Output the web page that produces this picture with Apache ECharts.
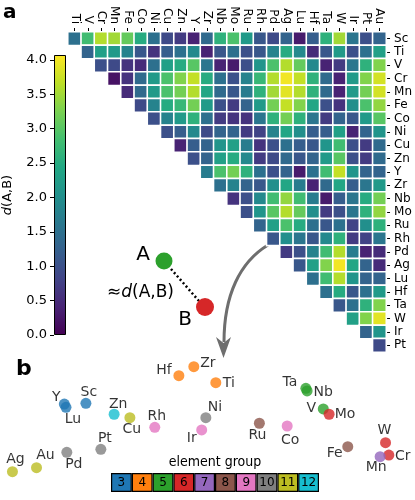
<!DOCTYPE html>
<html><head><meta charset="utf-8">
<script src="https://cdn.jsdelivr.net/npm/echarts@6/dist/echarts.min.js"></script>
<style>html,body{margin:0;padding:0;background:#fff}#c{width:415px;height:500px}</style>
</head><body><div id="c"></div>
<script>
// ---------- data: panel a (upper-triangular distance matrix) ----------
const rowLabels = ['Sc','Ti','V','Cr','Mn','Fe','Co','Ni','Cu','Zn','Y','Zr','Nb','Mo','Ru','Rh','Pd','Ag','Lu','Hf','Ta','W','Ir','Pt'];
const colLabels = ['Ti','V','Cr','Mn','Fe','Co','Ni','Cu','Zn','Y','Zr','Nb','Mo','Ru','Rh','Pd','Ag','Lu','Hf','Ta','W','Ir','Pt','Au'];
const rowSc = [1.5,2.8,3.6,3.5,3.1,2.5,1.5,0.9,0.7,0.4,1.4,2.6,2.9,2.2,1.1,0.9,1.3,0.3,1.2,2.6,3.5,1.6,1.0,1.3];
const rowTi = [1.3,2.3,2.2,1.8,1.1,0.6,1.2,1.5,1.9,0.4,1.1,1.5,1.0,1.1,1.8,2.5,1.9,0.5,1.1,2.2,1.0,1.5,2.3];
const rowV  = [1.0,0.9,0.6,0.5,1.5,2.3,2.5,3.0,1.6,0.4,0.3,1.0,2.1,2.9,3.6,3.1,1.9,0.4,0.7,1.6,2.6,3.3];
const rowCr = [0.2,0.6,1.4,2.2,2.9,3.3,3.7,2.5,1.5,1.0,1.8,2.7,3.6,4.0,3.7,2.6,1.4,0.4,2.2,3.3,3.8];
const rowMn = [0.5,1.4,2.2,2.9,3.2,3.6,2.4,1.4,1.1,1.7,2.6,3.5,3.9,3.6,2.6,1.4,0.4,2.2,3.2,3.8];
const rowFe = [0.9,1.8,2.5,2.7,3.2,2.2,1.0,0.7,1.3,2.2,3.2,3.7,3.3,2.4,1.0,0.6,2.0,2.9,3.4];
const rowCo = [1.0,1.8,2.2,2.6,1.5,0.7,0.6,0.6,1.6,2.6,3.2,2.6,1.6,0.7,1.3,1.1,2.2,3.0];
const rowNi = [1.0,1.2,1.9,0.9,1.3,1.3,0.7,0.8,1.8,2.4,2.0,1.2,1.2,2.3,0.4,1.3,2.1];
const rowCu = [0.4,1.2,1.3,2.1,2.3,1.7,0.6,1.0,1.5,1.2,1.1,2.1,2.8,1.0,0.7,1.4];
const rowZn = [1.0,1.3,2.3,2.5,1.9,0.7,0.9,1.4,1.1,1.3,2.2,3.0,1.0,0.7,1.4];
const rowY  = [1.7,2.9,3.2,2.6,1.5,1.0,1.3,0.3,1.5,2.8,3.7,2.1,1.3,1.3];
const rowZr = [1.5,1.8,1.3,1.1,2.0,2.4,1.7,0.4,1.4,2.4,1.2,1.6,2.2];
const rowNb = [0.6,1.0,1.9,2.8,3.4,2.8,1.7,0.3,1.2,1.6,2.5,3.2];
const rowMo = [1.0,2.1,3.0,3.6,3.1,2.0,0.7,1.0,1.6,2.6,3.4];
const rowRu = [1.3,2.3,2.9,2.5,1.5,1.1,1.5,0.8,2.0,2.6];
const rowRh = [1.1,2.0,1.6,1.1,1.9,2.6,0.7,0.8,1.6];
const rowPd = [0.7,1.0,1.8,2.8,3.6,1.7,0.4,0.5];
const rowAg = [1.1,2.3,3.3,4.0,2.4,1.3,0.5];
const rowLu = [1.5,2.8,3.6,2.1,1.3,1.3];
const rowHf = [1.5,2.5,1.1,1.5,2.2];
const rowTa = [1.1,1.5,2.6,3.3];
const rowW  = [2.3,3.3,3.9];
const rowIr = [1.3,2.1];
const rowPt = [0.9];
const distRows = [rowSc,rowTi,rowV,rowCr,rowMn,rowFe,rowCo,rowNi,rowCu,rowZn,rowY,rowZr,rowNb,rowMo,rowRu,rowRh,rowPd,rowAg,rowLu,rowHf,rowTa,rowW,rowIr,rowPt];
const cbMin = 0, cbMax = 4.07;
const cbTicks = [0,0.5,1,1.5,2,2.5,3,3.5,4];

// ---------- data: panel b (2-D embedding) ----------
const embElems = ['Sc','Ti','V','Cr','Mn','Fe','Co','Ni','Cu','Zn','Y','Zr','Nb','Mo','Ru','Rh','Pd','Ag','Lu','Hf','Ta','W','Ir','Pt','Au'];
const embX     = [20.7,52.0,77.9,93.7,91.6,83.8,69.2,49.6,31.3,27.5,15.5,46.7,74.0,79.3,62.5,37.3,16.1,3.0,15.9,43.1,73.7,92.9,48.6,24.3,8.8];
const embY     = [63.9,81.1,59.2,20.8,19.4,27.8,45.0,51.9,51.9,54.8,63.3,94.4,74.2,54.8,47.3,43.9,23.1,6.9,60.6,86.9,76.4,31.1,41.7,25.6,10.3];
const embGroup = [3,4,5,6,7,8,9,10,11,12,3,4,5,6,8,9,10,11,3,4,5,6,9,10,11];
const groups   = ['3','4','5','6','7','8','9','10','11','12'];

// ---------- styles ----------
const viridis = ['#440154','#482475','#414487','#355f8d','#2a788e','#21918c','#22a884','#44bf70','#7ad151','#bddf26','#fde725'];
const groupColors = ['#1f77b4','#ff7f0e','#2ca02c','#d62728','#9467bd','#8c564b','#e377c2','#7f7f7f','#bcbd22','#17becf'];
// label offsets (dx, dy) from dot centre, in px
const labelOffsets = {Sc:[3,-11],Ti:[13,1],V:[-12,-1],Cr:[14,1],Mn:[-4,11],Fe:[-13,7],Co:[3,14],Ni:[9,-10],Cu:[2,12],Zn:[4,-10],
  Y:[-8,-7],Zr:[14,-3],Nb:[16,1],Mo:[16,0],Ru:[-2,12],Rh:[2,-11],Pd:[7,12],Ag:[3,-12],Lu:[7,12],Hf:[-15,-5],Ta:[-16,-6],W:[-1,-12],Ir:[-10,8],Pt:[4,-11],Au:[9,-12]};
const FONT = 'DejaVu Sans';
const SYM = 11;

// ---------- build ----------
const heatData = [];
distRows.forEach((row, i) => row.forEach((v, k) => heatData.push([i + k, i, v])));

const scatterData = embElems.map((el, i) => {
  const off = labelOffsets[el];
  return {
    name: el,
    value: [embX[i], embY[i]],
    itemStyle: { color: groupColors[groups.indexOf(String(embGroup[i]))] },
    label: { position: [SYM / 2 + off[0], SYM / 2 + off[1]] }
  };
});

const cbStops = viridis.map((c, i) => ({ offset: i / (viridis.length - 1), color: c }));

const chart = echarts.init(document.getElementById('c'), null, { renderer: 'canvas' });
chart.setOption({
  animation: false,
  textStyle: { fontFamily: FONT },
  grid: [
    { left: 68, top: 32, width: 320, height: 320 },
    { left: 52, top: 55, width: 14, height: 280 },
    { left: 0, top: 360, width: 415, height: 120 },
    { left: 111, top: 473, width: 208, height: 19 }
  ],
  xAxis: [
    { gridIndex: 0, type: 'category', data: colLabels, position: 'top',
      axisLine: { show: false }, splitLine: { show: false },
      axisTick: { show: true, alignWithLabel: true, length: 4, lineStyle: { color: '#000', width: 1 } },
      axisLabel: { rotate: 90, interval: 0, fontSize: 12, color: '#000', margin: 8, fontFamily: FONT } },
    { gridIndex: 1, type: 'category', data: ['cb'], show: false },
    { gridIndex: 2, type: 'value', min: 0, max: 100, show: false },
    { gridIndex: 3, type: 'category', data: groups, show: false }
  ],
  yAxis: [
    { gridIndex: 0, type: 'category', data: rowLabels, inverse: true, position: 'right',
      axisLine: { show: false }, splitLine: { show: false },
      axisTick: { show: true, alignWithLabel: true, length: 4, lineStyle: { color: '#000', width: 1 } },
      axisLabel: { interval: 0, fontSize: 12, color: '#000', margin: 8, fontFamily: FONT } },
    { gridIndex: 1, type: 'value', min: cbMin, max: cbMax, position: 'left',
      axisLine: { show: false }, splitLine: { show: false },
      axisTick: { show: true, length: 4, customValues: cbTicks, lineStyle: { color: '#000' } },
      axisLabel: { customValues: cbTicks, fontSize: 13, color: '#000', margin: 7, fontFamily: FONT,
        formatter: v => (Math.abs(v * 2 - Math.round(v * 2)) < 1e-6 ? v.toFixed(1) : '') },
      name: '{it|d}(A,B)', nameLocation: 'middle', nameRotate: 90, nameGap: 40,
      nameTextStyle: { fontSize: 13, color: '#000', fontFamily: FONT,
        rich: { it: { fontStyle: 'italic', fontSize: 13, fontFamily: FONT } } } },
    { gridIndex: 2, type: 'value', min: 0, max: 100, show: false },
    { gridIndex: 3, type: 'value', min: 0, max: 1, show: false }
  ],
  visualMap: [{ type: 'continuous', show: false, seriesIndex: 0, min: cbMin, max: cbMax, inRange: { color: viridis } }],
  series: [
    { type: 'heatmap', xAxisIndex: 0, yAxisIndex: 0, data: heatData, silent: true,
      itemStyle: { borderColor: '#fff', borderWidth: 1.6 } },
    { type: 'bar', xAxisIndex: 1, yAxisIndex: 1, data: [cbMax], barWidth: '100%', silent: true,
      itemStyle: { color: new echarts.graphic.LinearGradient(0, 1, 0, 0, cbStops), borderColor: '#000', borderWidth: 1 } },
    { type: 'scatter', xAxisIndex: 2, yAxisIndex: 2, data: scatterData, symbolSize: SYM, silent: true,
      label: { show: true, formatter: '{b}', align: 'center', verticalAlign: 'middle', fontSize: 14, color: '#000', fontFamily: FONT } },
    { type: 'bar', xAxisIndex: 3, yAxisIndex: 3, barWidth: '100%', barCategoryGap: 0, silent: true,
      data: groups.map((g, i) => ({ value: 1, itemStyle: { color: groupColors[i] } })),
      itemStyle: { borderColor: '#000', borderWidth: 1.2 },
      label: { show: true, position: 'inside', formatter: '{b}', fontSize: 12, color: '#000', fontFamily: FONT } }
  ],
  graphic: [
    { type: 'text', left: 3, top: 3, style: { text: 'a', font: 'bold 20px "DejaVu Sans"', fill: '#000' } },
    { type: 'text', left: 16, top: 358, style: { text: 'b', font: 'bold 22px "DejaVu Sans"', fill: '#000' } },
    { type: 'text', x: 215, y: 462, style: { text: 'element group', font: '14px "DejaVu Sans Condensed", "DejaVu Sans"', fill: '#000', align: 'center', verticalAlign: 'middle' } },
    // schematic A-B
    { type: 'line', shape: { x1: 171, y1: 269, x2: 199, y2: 301 }, style: { stroke: '#000', lineWidth: 2.5, lineDash: [2, 2.5] } },
    { type: 'circle', shape: { cx: 164, cy: 261, r: 8.5 }, style: { fill: '#2ca02c' } },
    { type: 'circle', shape: { cx: 205, cy: 307, r: 9 }, style: { fill: '#d62728' } },
    { type: 'text', x: 143, y: 255, style: { text: 'A', font: '20px "DejaVu Sans"', fill: '#000', align: 'center', verticalAlign: 'middle' } },
    { type: 'text', x: 185, y: 320, style: { text: 'B', font: '20px "DejaVu Sans"', fill: '#000', align: 'center', verticalAlign: 'middle' } },
    { type: 'text', x: 174, y: 293, style: { text: '≈{i|d}(A,B)', font: '17px "DejaVu Sans"', fill: '#000', align: 'right', verticalAlign: 'middle',
        rich: { i: { fontStyle: 'italic', fontSize: 17, fontFamily: FONT } } } },
    // arrow
    { type: 'bezierCurve', shape: { x1: 268, y1: 245, cpx1: 240, cpy1: 262, cpx2: 224, cpy2: 295, x2: 224, y2: 342 },
      style: { stroke: '#6e6e6e', lineWidth: 3, fill: null } },
    { type: 'polygon', shape: { points: [[223.5, 358], [216, 337], [223.5, 343], [231, 337]] }, style: { fill: '#6e6e6e' } }
  ]
});
</script></body></html>
